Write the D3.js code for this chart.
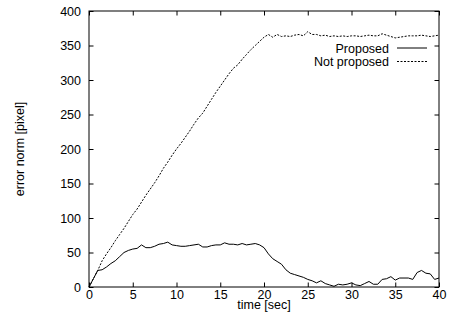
<!DOCTYPE html>
<html>
<head>
<meta charset="utf-8">
<script src="https://cdn.jsdelivr.net/npm/d3@7"></script>
<style>
  body { margin: 0; background: #fff; }
  svg { display: block; }
  text { font-family: "Liberation Sans", Arial, sans-serif; font-size: 12.5px; fill: #000; }
</style>
</head>
<body>
<script>
// sample times [sec]
const time = [0,0.5,1,1.5,2,2.5,3,3.5,4,4.5,5,5.5,6,6.5,7,7.5,8,8.5,9,9.5,
  10,10.5,11,11.5,12,12.5,13,13.5,14,14.5,15,15.5,16,16.5,17,17.5,18,18.5,19,19.5,
  20,20.5,21,21.5,22,22.5,23,23.5,24,24.5,25,25.5,26,26.5,27,27.5,28,28.5,29,29.5,
  30,30.5,31,31.5,32,32.5,33,33.5,34,34.5,35,35.5,36,36.5,37,37.5,38,38.5,39,39.5,40];

const proposed = [0,12,24,25,29,34,38,44,50,53,55,56,61,57,57,59,62,63,65,61,
  60,59,59,60,61,62,58,58,60,61,61,64,62,62,61,63,61,62,63,61,
  57,48,41,37,33,25,20,18,16,14,11,9,6,9,5,3,1,4,3,4,
  6,3,2,5,8,4,4,11,12,15,10,13,13,13,11,21,24,20,19,11,13];

const notProposed = [0,12,24,38,48,57,67,76,85,95,105,113,123,133,142,151,161,172,181,191,
  200,208,217,226,236,245,252,262,272,282,291,300,309,317,322,330,337,344,350,356,
  362,366,362,366,363,364,363,365,366,364,370,366,366,364,365,363,364,363,364,363,
  364,364,363,364,365,364,364,367,365,363,361,362,363,364,364,364,365,364,363,364,365];

const xTicks = [0,5,10,15,20,25,30,35,40];
const yTicks = [0,50,100,150,200,250,300,350,400];

const series = [
  {name: "Proposed", values: proposed, dash: null},
  {name: "Not proposed", values: notProposed, dash: "2,1.5"}
];

const width = 450, height = 325;
const margin = {top: 11, right: 11, bottom: 38, left: 89};
const iw = width - margin.left - margin.right;
const ih = height - margin.top - margin.bottom;

const svg = d3.select("body").append("svg")
    .attr("width", width)
    .attr("height", height);

const g = svg.append("g").attr("transform", `translate(${margin.left},${margin.top})`);

const x = d3.scaleLinear().domain([0, 40]).range([0, iw]);
const y = d3.scaleLinear().domain([0, 400]).range([ih, 0]);

const tickLen = 4.5;

// inward ticks on all four sides (gnuplot style)
g.append("g")
    .attr("transform", `translate(0,${ih})`)
    .call(d3.axisBottom(x).tickValues(xTicks).tickSize(-tickLen).tickPadding(3))
    .call(a => a.select(".domain").remove());
g.append("g")
    .call(d3.axisTop(x).tickValues(xTicks).tickSize(-tickLen).tickFormat(""))
    .call(a => a.select(".domain").remove());
g.append("g")
    .call(d3.axisLeft(y).tickValues(yTicks).tickSize(-tickLen).tickPadding(8))
    .call(a => a.select(".domain").remove());
g.append("g")
    .attr("transform", `translate(${iw},0)`)
    .call(d3.axisRight(y).tickValues(yTicks).tickSize(-tickLen).tickFormat(""))
    .call(a => a.select(".domain").remove());

g.selectAll(".tick text")
    .attr("font-family", null)
    .attr("font-size", null);
g.selectAll(".tick line").attr("stroke", "#000");

// data lines
const line = d3.line()
    .x((d, i) => x(time[i]))
    .y(d => y(d));

g.append("g")
  .selectAll("path")
  .data(series)
  .join("path")
    .attr("fill", "none")
    .attr("stroke", "#000")
    .attr("stroke-width", 1)
    .attr("stroke-dasharray", d => d.dash)
    .attr("d", d => line(d.values));

// frame
g.append("rect")
    .attr("width", iw)
    .attr("height", ih)
    .attr("fill", "none")
    .attr("stroke", "#000")
    .attr("stroke-width", 1);

// legend
const legend = g.append("g")
  .selectAll("g")
  .data(series)
  .join("g")
    .attr("transform", (d, i) => `translate(0,${37 + i * 13.5})`);

legend.append("text")
    .attr("x", 300)
    .attr("y", 4.5)
    .attr("text-anchor", "end")
    .text(d => d.name);
legend.append("line")
    .attr("x1", 308)
    .attr("x2", 338)
    .attr("stroke", "#000")
    .attr("stroke-dasharray", d => d.dash);

// axis labels
svg.append("text")
    .attr("x", margin.left + iw / 2)
    .attr("y", 309)
    .attr("text-anchor", "middle")
    .text("time [sec]");

svg.append("text")
    .attr("transform", `translate(24,${margin.top + ih / 2}) rotate(-90)`)
    .attr("text-anchor", "middle")
    .text("error norm [pixel]");
</script>
</body>
</html>
